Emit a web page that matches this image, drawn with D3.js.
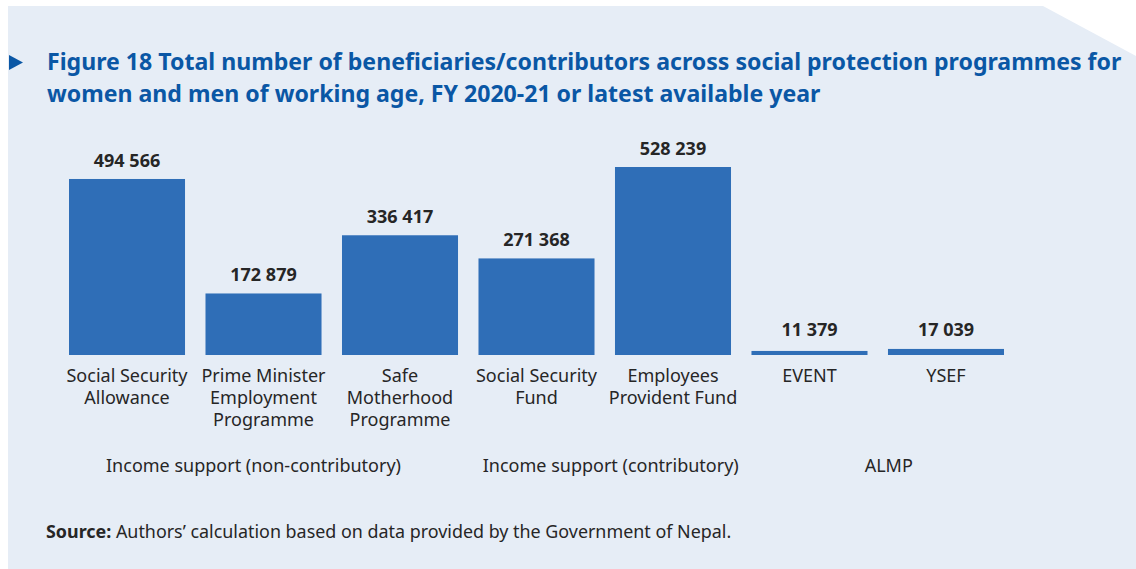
<!DOCTYPE html>
<html>
<head>
<meta charset="utf-8">
<script src="https://cdn.jsdelivr.net/npm/d3@7"></script>
<style>
  html, body { margin: 0; padding: 0; background: #ffffff; }
  svg { display: block; font-family: "Noto Sans", "Open Sans", sans-serif; }
</style>
</head>
<body>
<svg id="chart" width="1136" height="569"></svg>
<script>
// Programme names (each entry is a list of label lines)
const programmes = [
  ["Social Security", "Allowance"],
  ["Prime Minister", "Employment", "Programme"],
  ["Safe", "Motherhood", "Programme"],
  ["Social Security", "Fund"],
  ["Employees", "Provident Fund"],
  ["EVENT"],
  ["YSEF"]
];
// Beneficiaries / contributors per programme
const beneficiaries = [494566, 172879, 336417, 271368, 528239, 11379, 17039];
// Programme groups: label and the index range of programmes they cover
const groupLabels = ["Income support (non-contributory)", "Income support (contributory)", "ALMP"];
const groupSpans = [[0, 2], [3, 4], [5, 6]];

const titleLines = [
  "Figure 18 Total number of beneficiaries/contributors across social protection programmes for",
  "women and men of working age, FY 2020-21 or latest available year"
];

const svg = d3.select("#chart");

// Background panel with clipped top-right corner
svg.append("path")
  .attr("d", `M8,6 L1043,6 L1136,56 L1136,569 L8,569 Z`)
  .attr("fill", "#e6edf6");

// Title marker triangle
svg.append("path")
  .attr("d", "M9,55 L23,62.5 L9,70 Z")
  .attr("fill", "#0a57a5");

const title = svg.append("text")
  .attr("x", 47)
  .attr("y", 70)
  .attr("fill", "#0a57a5")
  .attr("font-size", 23.1)
  .attr("font-weight", 700);
titleLines.forEach((t, i) => {
  title.append("tspan").attr("x", 47).attr("dy", i === 0 ? 0 : 32).text(t);
});

const idx = d3.range(programmes.length);
const x = d3.scaleBand()
  .domain(idx)
  .range([69, 1004])
  .paddingInner(0.15)
  .paddingOuter(0);

const baseY = 355;
const y = d3.scaleLinear()
  .domain([0, 528239])
  .range([baseY, 167]);

const fmt = v => d3.format(",")(v).replace(/,/g, " ");

svg.append("g").selectAll("rect")
  .data(idx)
  .join("rect")
  .attr("x", i => x(i))
  .attr("y", i => y(beneficiaries[i]))
  .attr("width", x.bandwidth())
  .attr("height", i => baseY - y(beneficiaries[i]))
  .attr("fill", "#2f6eb7");

// Value labels: 12px above the bar, but never lower than 19px above the baseline
svg.append("g").selectAll("text")
  .data(idx)
  .join("text")
  .attr("x", i => x(i) + x.bandwidth() / 2)
  .attr("y", i => Math.min(y(beneficiaries[i]) - 12, baseY - 19))
  .attr("text-anchor", "middle")
  .attr("font-size", 18)
  .attr("font-weight", 700)
  .attr("fill", "#262626")
  .text(i => fmt(beneficiaries[i]));

// Category labels below the baseline
const cat = svg.append("g").selectAll("text")
  .data(idx)
  .join("text")
  .attr("x", i => x(i) + x.bandwidth() / 2)
  .attr("y", 382)
  .attr("text-anchor", "middle")
  .attr("font-size", 18)
  .attr("fill", "#262626");
cat.each(function(i) {
  const t = d3.select(this);
  programmes[i].forEach((line, k) => {
    t.append("tspan")
      .attr("x", x(i) + x.bandwidth() / 2)
      .attr("dy", k === 0 ? 0 : 22)
      .text(line);
  });
});

// Group labels, centred under their programmes with a small horizontal nudge
const groupNudge = [-10, 6, 11];
svg.append("g").selectAll("text")
  .data(groupLabels)
  .join("text")
  .attr("x", (d, g) => (x(groupSpans[g][0]) + x(groupSpans[g][1]) + x.bandwidth()) / 2 + groupNudge[g])
  .attr("y", 472)
  .attr("text-anchor", "middle")
  .attr("font-size", 18)
  .attr("fill", "#262626")
  .text(d => d);

// Source note
const src = svg.append("text")
  .attr("x", 46)
  .attr("y", 537.5)
  .attr("font-size", 17.9)
  .attr("fill", "#262626");
src.append("tspan").attr("font-weight", 700).text("Source:");
src.append("tspan").text(" Authors’ calculation based on data provided by the Government of Nepal.");
</script>
</body>
</html>
